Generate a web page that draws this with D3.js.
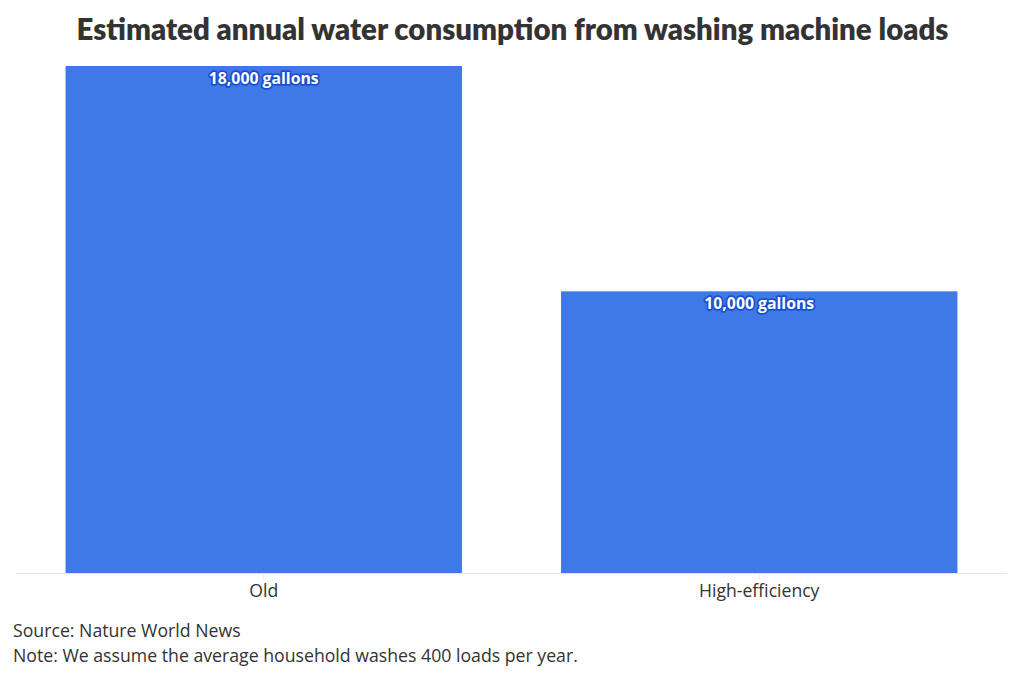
<!DOCTYPE html>
<html>
<head>
<meta charset="utf-8">
<script src="https://cdn.jsdelivr.net/npm/d3@7"></script>
<style>
  body { margin: 0; background: #fff; }
  svg { display: block; font-family: "Open Sans", "Noto Sans", sans-serif; }
</style>
</head>
<body>
<svg width="1024" height="678"></svg>
<script>
// データ
const categories = ['Old', 'High-efficiency']
const gallons = [18000, 10000]
const valueLabels = ['18,000 gallons', '10,000 gallons']

const width = 1024
const svg = d3.select('svg')

// 描画エリア
const baseY = 573
const topY = 66

const xScale = d3.scaleBand()
  .domain(categories)
  .range([16, 1007])
  .paddingInner(0.2)
  .paddingOuter(0.1)

const yScale = d3.scaleLinear()
  .domain([0, d3.max(gallons)])
  .range([baseY, topY])

// タイトル
svg.append('text')
  .attr('x', width / 2 + 0.5)
  .attr('y', 40)
  .attr('text-anchor', 'middle')
  .attr('font-family', 'Lato, sans-serif')
  .attr('font-weight', 800)
  .attr('font-size', 29.4)
  .attr('fill', '#333')
  .text('Estimated annual water consumption from washing machine loads')

// 棒
svg.selectAll('rect.bar')
  .data(categories)
  .enter()
  .append('rect')
  .attr('class', 'bar')
  .attr('x', (d) => xScale(d))
  .attr('y', (d, i) => yScale(gallons[i]))
  .attr('width', xScale.bandwidth())
  .attr('height', (d, i) => baseY - yScale(gallons[i]))
  .attr('fill', '#3f78e7')

// x軸
const xAxis = d3.axisBottom(xScale).tickSize(6).tickPadding(6)
const gx = svg.append('g')
  .attr('transform', `translate(0, ${baseY})`)
  .call(xAxis)
gx.select('.domain').attr('stroke', '#e6e6e6').attr('d', 'M16,0.5H1007')
gx.selectAll('.tick line').attr('stroke', '#e6e6e6')
gx.selectAll('.tick text')
  .attr('font-family', '"Open Sans", sans-serif')
  .attr('font-size', 17.6)
  .attr('fill', '#333')

// 値ラベル
svg.selectAll('text.value')
  .data(categories)
  .enter()
  .append('text')
  .attr('class', 'value')
  .attr('x', (d) => xScale(d) + xScale.bandwidth() / 2)
  .attr('y', (d, i) => yScale(gallons[i]) + 18)
  .attr('text-anchor', 'middle')
  .attr('font-family', '"Open Sans", sans-serif')
  .attr('font-weight', 700)
  .attr('font-size', 15.8)
  .attr('fill', '#fff')
  .attr('stroke', '#1a4fd0')
  .attr('stroke-width', 3.5)
  .attr('stroke-linejoin', 'round')
  .attr('paint-order', 'stroke')
  .text((d, i) => valueLabels[i])

// 出典
const notes = ['Source: Nature World News', 'Note: We assume the average household washes 400 loads per year.']
svg.selectAll('text.note')
  .data(notes)
  .enter()
  .append('text')
  .attr('class', 'note')
  .attr('x', 13)
  .attr('y', (d, i) => 637 + i * 25)
  .attr('font-family', '"Open Sans", sans-serif')
  .attr('font-size', 17.7)
  .attr('fill', '#333')
  .text((d) => d)
</script>
</body>
</html>
